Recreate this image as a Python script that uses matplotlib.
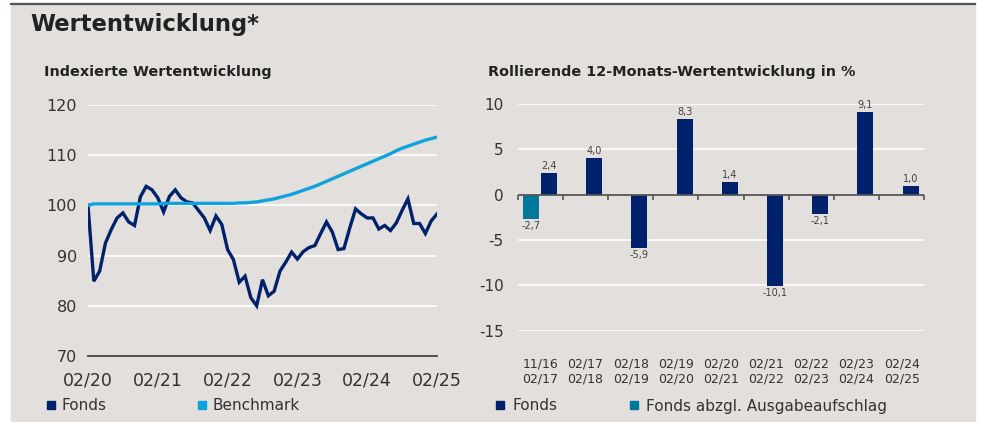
import matplotlib.pyplot as plt
import numpy as np
from matplotlib.patches import Patch, Rectangle
from matplotlib.lines import Line2D

# Indexierte Wertentwicklung, monthly 02/20 .. 02/25
fonds_index = [100.0, 84.9, 86.9, 92.5, 95.2, 97.5, 98.5, 96.7, 96.0, 101.7, 103.8,
               103.1, 101.5, 98.7, 101.8, 103.1, 101.5, 100.7, 100.5, 99.0, 97.5,
               95.0, 97.9, 96.2, 91.2, 89.2, 84.7, 85.9, 81.6, 80.0, 85.2,
               82.0, 82.9, 86.9, 88.7, 90.7, 89.3, 90.8, 91.6, 92.0, 94.4,
               96.7, 94.7, 91.2, 91.4, 95.5, 99.3, 98.3, 97.5, 97.5, 95.3,
               96.0, 95.0, 96.5, 99.0, 101.3, 96.4, 96.4, 94.4, 96.9, 98.3]
benchmark_index = [100.0, 100.3, 100.3, 100.3, 100.3, 100.3, 100.3, 100.3, 100.3, 100.3, 100.3,
                   100.3, 100.3, 100.4, 100.4, 100.4, 100.4, 100.4, 100.4, 100.4, 100.4,
                   100.4, 100.4, 100.4, 100.4, 100.4, 100.5, 100.5, 100.6, 100.7, 100.9,
                   101.1, 101.3, 101.6, 101.9, 102.2, 102.6, 103.0, 103.4, 103.8, 104.3,
                   104.8, 105.3, 105.8, 106.3, 106.8, 107.3, 107.8, 108.3, 108.8, 109.3,
                   109.8, 110.3, 110.9, 111.4, 111.8, 112.2, 112.6, 113.0, 113.3, 113.6]
year_labels = ["02/20", "02/21", "02/22", "02/23", "02/24", "02/25"]

# Rollierende 12-Monats-Wertentwicklung
periods = ["11/16\n02/17", "02/17\n02/18", "02/18\n02/19", "02/19\n02/20", "02/20\n02/21",
           "02/21\n02/22", "02/22\n02/23", "02/23\n02/24", "02/24\n02/25"]
fonds_12m = [2.4, 4.0, -5.9, 8.3, 1.4, -10.1, -2.1, 9.1, 1.0]
fonds_net_12m = [-2.7, 0, 0, 0, 0, 0, 0, 0, 0]

BG = "#e2dfdc"
NAVY = "#00216b"
LIGHT = "#0ea3dd"
TEAL = "#00789c"
TXT = "#333333"


def main():
    plt.rcParams["axes.unicode_minus"] = False

    fig = plt.figure(figsize=(9.82, 4.22), dpi=100)
    fig.patch.set_facecolor("white")
    fig.patches.append(Rectangle((11 / 982, 0), 964 / 982, 1 - 3 / 422,
                                 transform=fig.transFigure, color=BG, zorder=-10))
    fig.lines.append(Line2D([11 / 982, 975 / 982], [1 - 4 / 422] * 2,
                            transform=fig.transFigure, color="#555555", lw=1.6))

    fig.text(30 / 982, 1 - 31 / 422, "Wertentwicklung*", fontsize=16.3, fontweight="bold",
             color="#222222", va="baseline")
    fig.text(44 / 982, 1 - 76 / 422, "Indexierte Wertentwicklung", fontsize=10.4,
             fontweight="bold", color="#222222", va="baseline")
    fig.text(488 / 982, 1 - 76 / 422, "Rollierende 12-Monats-Wertentwicklung in %",
             fontsize=10.4, fontweight="bold", color="#222222", va="baseline")

    # left: indexed performance
    ax1 = fig.add_axes([88 / 982, 1 - 356 / 422, 349 / 982, 251 / 422])
    ax1.set_facecolor("none")
    months = np.arange(len(fonds_index))
    ax1.plot(months, fonds_index, color=NAVY, lw=2.4, zorder=3, solid_joinstyle="miter")
    ax1.plot(months, benchmark_index, color=LIGHT, lw=2.4, zorder=4)
    ax1.set_xlim(0, len(fonds_index) - 1)
    ax1.set_ylim(70, 120)
    ax1.set_yticks(np.arange(70, 121, 10))
    ax1.set_xticks(np.arange(0, len(fonds_index), 12))
    ax1.set_xticklabels(year_labels)
    ax1.grid(axis="y", color="white", lw=1.2, zorder=0)
    ax1.set_axisbelow(True)
    for s in ["top", "right", "left"]:
        ax1.spines[s].set_visible(False)
    ax1.spines["bottom"].set_color("#444444")
    ax1.spines["bottom"].set_linewidth(1.3)
    ax1.spines["bottom"].set_zorder(5)
    ax1.tick_params(axis="y", length=0, pad=8, labelsize=11.5, labelcolor=TXT)
    ax1.tick_params(axis="x", length=0, pad=11, labelsize=12.5, labelcolor=TXT)

    leg1 = ax1.legend(handles=[Patch(color=NAVY, label="Fonds"),
                               Patch(color=LIGHT, label="Benchmark")],
                      loc="center left", bbox_to_anchor=(47 / 982, 1 - 406 / 422),
                      bbox_transform=fig.transFigure, ncol=2, frameon=False,
                      fontsize=11, handlelength=0.5, handleheight=0.5,
                      handletextpad=0.45, columnspacing=6.0, borderpad=0,
                      borderaxespad=0)
    for t in leg1.get_texts():
        t.set_color(TXT)

    # right: rolling 12 month returns
    ax2 = fig.add_axes([517.7 / 982, 1 - 330.7 / 422, 406.6 / 982, 226.7 / 422])
    ax2.set_facecolor("none")
    x = np.arange(len(periods))
    w = 0.354
    b_net = ax2.bar(x - 0.195, fonds_net_12m, w, color=TEAL, zorder=3)
    b_fonds = ax2.bar(x + 0.195, fonds_12m, w, color=NAVY, zorder=3)
    fmt = lambda v: f"{v:.1f}".replace(".", ",")
    ax2.bar_label(b_fonds, labels=[fmt(v) for v in fonds_12m], padding=1.5,
                  fontsize=7, color="#444444")
    ax2.bar_label(b_net, labels=[fmt(v) if v != 0 else "" for v in fonds_net_12m],
                  padding=1.5, fontsize=7, color="#444444")
    ax2.set_xlim(-0.5, len(periods) - 0.5)
    ax2.set_ylim(-15, 10)
    ax2.set_yticks([-15, -10, -5, 0, 5, 10])
    ax2.set_xticks(x)
    ax2.set_xticklabels(periods)
    ax2.grid(axis="y", color="white", lw=1.2, zorder=0)
    ax2.set_axisbelow(True)
    for s in ax2.spines.values():
        s.set_visible(False)
    ax2.axhline(0, color="#555555", lw=1.3, zorder=4)
    bounds = np.arange(len(periods) + 1) - 0.5
    ax2.vlines(bounds, -0.55, 0, color="#555555", lw=1.2, zorder=4, clip_on=False)
    ax2.tick_params(axis="y", length=0, pad=10, labelsize=11, labelcolor=TXT)
    ax2.tick_params(axis="x", length=0, pad=19, labelsize=9, labelcolor=TXT)

    leg2 = ax2.legend(handles=[Patch(color=NAVY, label="Fonds"),
                               Patch(color=TEAL, label="Fonds abzgl. Ausgabeaufschlag")],
                      loc="center left", bbox_to_anchor=(496 / 982, 1 - 406 / 422),
                      bbox_transform=fig.transFigure, ncol=2, frameon=False,
                      fontsize=11, handlelength=0.5, handleheight=0.5,
                      handletextpad=0.55, columnspacing=4.8, borderpad=0,
                      borderaxespad=0)
    for t in leg2.get_texts():
        t.set_color(TXT)

    plt.savefig("out.png", dpi=100, facecolor=fig.get_facecolor())


if __name__ == '__main__':
    main()
